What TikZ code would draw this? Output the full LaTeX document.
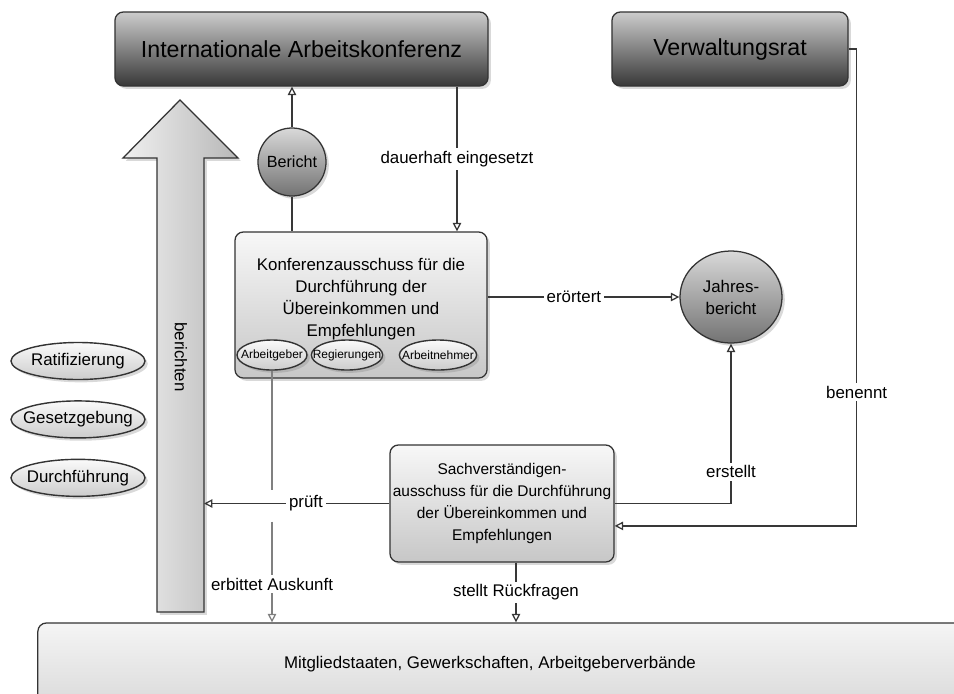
\documentclass[tikz,border=0pt]{standalone}
\usepackage{fontspec}
\setmainfont{Liberation Sans}
\usetikzlibrary{arrows.meta, positioning, shapes.geometric, shadows, calc}

\newcommand{\ctext}[1]{\makebox[0pt]{#1}}

\begin{document}
\begin{tikzpicture}[
    x=0.025cm, y=-0.025cm,
    every node/.style={font=\fontsize{12}{15.6}\selectfont},
    shd/.style={drop shadow={shadow xshift=2pt, shadow yshift=-2pt, opacity=0.3}},
    darkbox/.style={draw=black!80, line width=0.9pt, rounded corners=6pt, top color=black!20, bottom color=black!78, minimum height=1.85cm, font=\fontsize{16.5}{20}\selectfont, shd},
    lightbox/.style={draw=black!80, line width=0.9pt, rounded corners=6pt, top color=black!3, bottom color=black!22, align=center, inner xsep=0pt, shd},
    disc/.style={circle, draw=black!80, line width=0.9pt, top color=black!15, bottom color=black!55, align=center, inner sep=0pt, shd},
    oval/.style={ellipse, draw=black!80, line width=1pt, top color=black!2, bottom color=black!20, inner sep=0pt, shd},
    conn/.style={draw=black!78, line width=0.9pt},
    tip/.style={-{Triangle[open, length=6pt, width=6pt]}},
    lbl/.style={fill=white, inner sep=2pt}
]
\useasboundingbox (0,0) rectangle (954,693);

% big arrow "berichten"
\path[shd, left color=black!6, right color=black!28, draw=black!80, line width=0.9pt]
  (157,612) -- (157,158) -- (123,158) -- (180,100) -- (238,158) -- (204,158) -- (204,612) -- cycle;
\coordinate (shaftE) at (204,0);
\node[rotate=-90] (ber-txt) at (181,357) {berichten};

% top row
\node[darkbox, minimum width=9.325cm] (iak) at (301.5,49) {Internationale Arbeitskonferenz};
\node[darkbox, minimum width=5.9cm] (vr) at (730,49) {Verwaltungsrat};

% Konferenzausschuss
\node[lightbox, minimum width=6.3cm, minimum height=3.65cm, text depth=11pt] (ka) at (361,305)
  {Konferenzausschuss für die\\Durchführung der\\Übereinkommen und\\Empfehlungen};
\node[oval, minimum width=1.75cm, minimum height=0.75cm, font=\fontsize{8.5}{10}\selectfont] (ag) at (272,355) {\ctext{Arbeitgeber}};
\node[oval, minimum width=1.78cm, minimum height=0.75cm, font=\fontsize{8.5}{10}\selectfont] (rg) at (347,355) {\ctext{Regierungen}};
\node[oval, minimum width=1.93cm, minimum height=0.75cm, font=\fontsize{8.5}{10}\selectfont] (an) at (438,355) {\ctext{Arbeitnehmer}};

\node[disc, minimum size=1.7cm, font=\fontsize{11.5}{14}\selectfont] (ber) at (292,162) {Bericht};
\node[disc, ellipse, minimum width=2.55cm, minimum height=2.3cm] (jb) at (731,297) {Jahres-\\bericht};

% left ellipses
\node[oval, minimum width=3.35cm, minimum height=0.925cm] (rat) at (78,361) {\ctext{Ratifizierung}};
\node[oval, minimum width=3.35cm, minimum height=0.925cm, below=0.5cm of rat] (ges) {\ctext{Gesetzgebung}};
\node[oval, minimum width=3.35cm, minimum height=0.925cm, below=0.5cm of ges] (dfg) {\ctext{Durchführung}};

% Sachverstaendigenausschuss
\node[lightbox, minimum width=5.6cm, minimum height=2.925cm, font=\fontsize{11}{15.6}\selectfont] (sa) at (502,503.5)
  {Sachverständigen-\\ausschuss für die Durchführung\\der Übereinkommen und\\Empfehlungen};

% base
\node[lightbox, minimum width=27cm, minimum height=2.6cm, top color=black!4, bottom color=black!17] (base) at (578,675) {};
\node (base-txt) at (490,664) {Mitgliedstaaten, Gewerkschaften, Arbeitgeberverbände};

% connectors
\coordinate (dx) at (457,0);
\coordinate (rx) at (516,0);
\draw[conn] (ber.south) -- (ber.south |- ka.north);
\draw[conn, tip] (ber.north) -- (ber.north |- iak.south);
\draw[conn, tip] (iak.south -| dx) -- node[lbl, pos=0.5]{dauerhaft eingesetzt} (ka.north -| dx);
\draw[conn, tip] (ka.east |- jb.west) -- node[lbl, pos=0.45]{erörtert} (jb.west);
\draw[conn, tip] (sa.east) -| node[lbl, pos=0.6]{erstellt} (jb.south);
\draw[conn, tip] (vr.east) -- ++(8,0) |- node[lbl, pos=0.36]{benennt} ([yshift=-0.56cm]sa.east);
\draw[conn, draw=black!50, tip] (ag.south) -- ($(ag.south |- sa.west)+(0,-14)$)
  ($(ag.south |- sa.west)+(0,18)$) -- node[lbl, pos=0.62]{erbittet Auskunft} (ag.south |- base.north);
\draw[conn, tip] (sa.west) -- node[lbl, pos=0.45]{prüft} (shaftE |- sa.west);
\draw[conn, tip] (sa.south -| rx) -- node[lbl, pos=0.5]{stellt Rückfragen} (base.north -| rx);
\end{tikzpicture}
\end{document}
